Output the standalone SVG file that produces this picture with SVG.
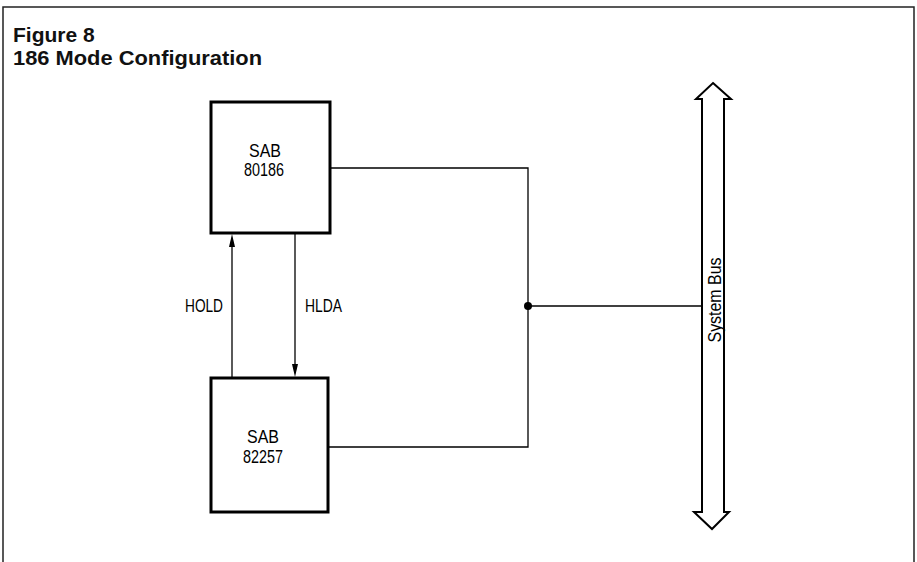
<svg xmlns="http://www.w3.org/2000/svg" width="917" height="562" viewBox="0 0 917 562">
<style>
.frame{fill:none;stroke:#222;stroke-width:1.5}
.box{fill:#fff;stroke:#000;stroke-width:3}
.wire{fill:none;stroke:#000;stroke-width:1.3}
.head{fill:#000;stroke:none}
.title{font-family:"Liberation Sans",Arial,sans-serif;font-weight:bold;font-size:21px;fill:#111}
.lbl{font-family:"Liberation Sans",Arial,sans-serif;font-size:18px;fill:#000}
.bus{fill:#fff;stroke:#000;stroke-width:2;stroke-linejoin:miter}
</style>
<path class="frame" d="M3,562 V7 H914 V562"/>
<text class="title" x="13" y="42">Figure 8</text>
<text class="title" x="13" y="65" textLength="249" lengthAdjust="spacingAndGlyphs">186 Mode Configuration</text>
<g id="connectors">
<polyline class="wire" points="330,168 528,168 528,447 328,447"/>
<line class="wire" x1="528" y1="306" x2="702" y2="306"/>
<circle cx="528" cy="306" r="4" fill="#000"/>
<line class="wire" x1="232" y1="378" x2="232" y2="240"/>
<polygon class="head" points="232,234 235,247 229,247"/>
<line class="wire" x1="295" y1="233" x2="295" y2="370"/>
<polygon class="head" points="295,377 298,364 292,364"/>
<text class="lbl" x="185" y="312" textLength="38" lengthAdjust="spacingAndGlyphs">HOLD</text>
<text class="lbl" x="305" y="312" textLength="37" lengthAdjust="spacingAndGlyphs">HLDA</text>
</g>
<g id="sab80186">
<rect class="box" x="211" y="102" width="119" height="131"/>
<text class="lbl" x="265" y="157" text-anchor="middle" textLength="32" lengthAdjust="spacingAndGlyphs">SAB</text>
<text class="lbl" x="264" y="176" text-anchor="middle" textLength="40" lengthAdjust="spacingAndGlyphs">80186</text>
</g>
<g id="sab82257">
<rect class="box" x="211" y="378" width="117" height="134"/>
<text class="lbl" x="263" y="443" text-anchor="middle" textLength="32" lengthAdjust="spacingAndGlyphs">SAB</text>
<text class="lbl" x="263" y="463" text-anchor="middle" textLength="40" lengthAdjust="spacingAndGlyphs">82257</text>
</g>
<g id="systembus">
<path class="bus" d="M713,83 L731,99 L724,99 L724,512 L729,512 L712,529 L694,512 L702,512 L702,99 L696,99 Z"/>
<text class="lbl" transform="translate(721,300) rotate(-90)" text-anchor="middle" textLength="85" lengthAdjust="spacingAndGlyphs">System Bus</text>
</g>
</svg>
